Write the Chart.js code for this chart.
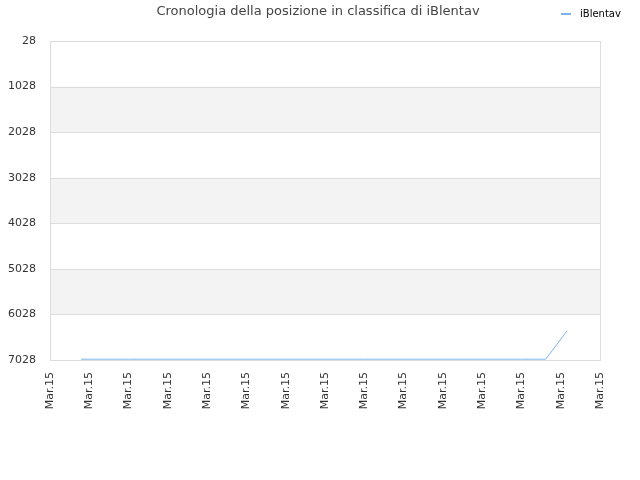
<!DOCTYPE html>
<html>
<head>
<meta charset="utf-8">
<script src="https://cdn.jsdelivr.net/npm/chart.js@4"></script>
<style>
  html, body { margin: 0; padding: 0; background: #fff; }
  #wrap { width: 640px; height: 480px; }
</style>
</head>
<body>
<div id="wrap"><canvas id="rankChart" width="640" height="480"></canvas></div>
<script>
var titleText = 'Cronologia della posizione in classifica di iBlentav';
var seriesName = 'iBlentav';
var tickLabel = 'Mar.15';
// x positions on a 0..14 tick grid, ranks
var dayPos = [0.79, 2, 4, 6, 8, 10, 12, 12.62, 13.16];
var ranks = [7010, 7010, 7010, 7010, 7010, 7010, 7010, 7010, 6390];
var rankMin = 28, rankMax = 7028, rankStep = 1000;

var lineColor = 'rgba(124, 181, 236, 1)';

var points = dayPos.map(function (d, i) { return { x: d, y: ranks[i] }; });

var decor = {
  id: 'decor',
  beforeDatasetsDraw: function (chart) {
    var c = chart.ctx, a = chart.chartArea, y = chart.scales.y;
    c.save();
    var ticks = y.ticks;
    for (var i = 1; i < ticks.length - 1; i += 2) {
      var t1 = y.getPixelForValue(ticks[i].value);
      var t2 = y.getPixelForValue(ticks[i + 1].value);
      c.fillStyle = '#f3f3f3';
      c.fillRect(a.left, t1, a.right - a.left, t2 - t1);
    }
    c.strokeStyle = '#dddddd';
    c.lineWidth = 1;
    ticks.forEach(function (t) {
      var p = Math.round(y.getPixelForValue(t.value)) + 0.5;
      c.beginPath(); c.moveTo(a.left, p); c.lineTo(a.right, p); c.stroke();
    });
    c.strokeRect(Math.round(a.left) + 0.5, Math.round(a.top) + 0.5,
                 Math.round(a.right - a.left), Math.round(a.bottom - a.top));
    c.restore();
  },
  afterDraw: function (chart) {
    var c = chart.ctx;
    c.save();
    c.fillStyle = '#444';
    c.font = '13px "DejaVu Sans"';
    c.textAlign = 'center';
    c.textBaseline = 'middle';
    c.fillText(titleText, 318, 12);
    c.strokeStyle = lineColor;
    c.lineWidth = 2;
    c.beginPath(); c.moveTo(561, 14); c.lineTo(571, 14); c.stroke();
    c.fillStyle = '#000';
    c.font = '10px "DejaVu Sans"';
    c.textAlign = 'left';
    c.fillText(seriesName, 580, 14);
    c.restore();
  }
};

new Chart(document.getElementById('rankChart').getContext('2d'), {
  type: 'line',
  data: {
    datasets: [{
      label: seriesName,
      data: points,
      borderColor: lineColor,
      borderWidth: 1,
      pointRadius: 0,
      tension: 0,
      fill: false
    }]
  },
  options: {
    responsive: false,
    animation: false,
    layout: { padding: { top: 41, right: 40, left: 0, bottom: 0 } },
    plugins: {
      legend: { display: false },
      title: { display: false },
      tooltip: { enabled: false }
    },
    scales: {
      x: {
        type: 'linear',
        min: 0,
        max: 14,
        grid: { display: false },
        border: { display: false },
        afterFit: function (s) { s.height = 120; },
        ticks: {
          stepSize: 1,
          minRotation: 90,
          maxRotation: 90,
          autoSkip: false,
          padding: 4,
          color: '#333',
          font: { family: 'DejaVu Sans', size: 11 },
          callback: function () { return tickLabel; }
        }
      },
      y: {
        reverse: true,
        min: rankMin,
        max: rankMax,
        grid: { display: false },
        border: { display: false },
        afterFit: function (s) { s.width = 50; },
        afterBuildTicks: function (s) {
          var t = [];
          for (var v = rankMin; v <= rankMax; v += rankStep) t.push({ value: v });
          s.ticks = t;
        },
        ticks: {
          padding: 6,
          color: '#333',
          font: { family: 'DejaVu Sans', size: 11 },
          callback: function (v) { return String(v); }
        }
      }
    }
  },
  plugins: [decor]
});
</script>
</body>
</html>
